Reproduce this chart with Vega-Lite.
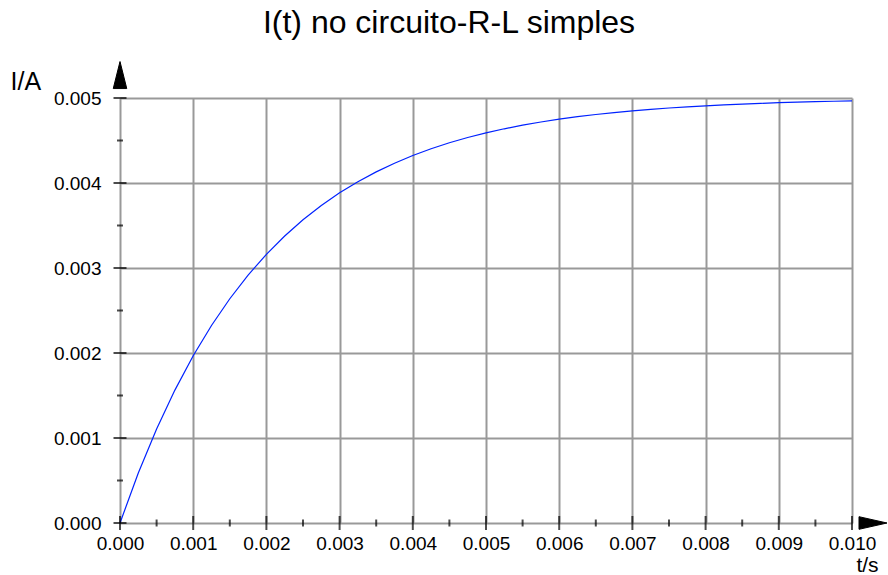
{
  "$schema": "https://vega.github.io/schema/vega-lite/v6.json",
  "width": 732,
  "height": 425,
  "autosize": {"type": "none"},
  "padding": {"left": 120, "top": 98, "right": 36, "bottom": 52},
  "background": "white",
  "config": {
    "view": {"stroke": null},
    "font": "Liberation Sans",
    "title": {"font": "Liberation Sans", "fontSize": 32, "fontWeight": "normal", "color": "black"}
  },
  "title": {"text": "I(t) no circuito-R-L simples", "anchor": "middle", "dx": -37, "offset": 20},
  "datasets": {
    "curve": [
      {"t": 0.0, "I": 0.0},
      {"t": 0.00025, "I": 0.00058752},
      {"t": 0.0005, "I": 0.001106},
      {"t": 0.00075, "I": 0.00156356},
      {"t": 0.001, "I": 0.00196735},
      {"t": 0.00125, "I": 0.00232369},
      {"t": 0.0015, "I": 0.00263817},
      {"t": 0.00175, "I": 0.00291569},
      {"t": 0.002, "I": 0.0031606},
      {"t": 0.00225, "I": 0.00337674},
      {"t": 0.0025, "I": 0.00356748},
      {"t": 0.00275, "I": 0.0037358},
      {"t": 0.003, "I": 0.00388435},
      {"t": 0.00325, "I": 0.00401544},
      {"t": 0.0035, "I": 0.00413113},
      {"t": 0.00375, "I": 0.00423323},
      {"t": 0.004, "I": 0.00432332},
      {"t": 0.00425, "I": 0.00440284},
      {"t": 0.0045, "I": 0.00447301},
      {"t": 0.00475, "I": 0.00453493},
      {"t": 0.005, "I": 0.00458958},
      {"t": 0.00525, "I": 0.0046378},
      {"t": 0.0055, "I": 0.00468036},
      {"t": 0.00575, "I": 0.00471792},
      {"t": 0.006, "I": 0.00475106},
      {"t": 0.00625, "I": 0.00478032},
      {"t": 0.0065, "I": 0.00480613},
      {"t": 0.00675, "I": 0.00482891},
      {"t": 0.007, "I": 0.00484901},
      {"t": 0.00725, "I": 0.00486676},
      {"t": 0.0075, "I": 0.00488241},
      {"t": 0.00775, "I": 0.00489623},
      {"t": 0.008, "I": 0.00490842},
      {"t": 0.00825, "I": 0.00491918},
      {"t": 0.0085, "I": 0.00492868},
      {"t": 0.00875, "I": 0.00493706},
      {"t": 0.009, "I": 0.00494446},
      {"t": 0.00925, "I": 0.00495098},
      {"t": 0.0095, "I": 0.00495674},
      {"t": 0.00975, "I": 0.00496182},
      {"t": 0.01, "I": 0.00496631}
    ],
    "xmajor": [{"v": 0}, {"v": 0.001}, {"v": 0.002}, {"v": 0.003}, {"v": 0.004}, {"v": 0.005}, {"v": 0.006}, {"v": 0.007}, {"v": 0.008}, {"v": 0.009}, {"v": 0.01}],
    "xminor": [{"v": 0.0005}, {"v": 0.0015}, {"v": 0.0025}, {"v": 0.0035}, {"v": 0.0045}, {"v": 0.0055}, {"v": 0.0065}, {"v": 0.0075}, {"v": 0.0085}, {"v": 0.0095}],
    "ymajor": [{"v": 0}, {"v": 0.001}, {"v": 0.002}, {"v": 0.003}, {"v": 0.004}, {"v": 0.005}],
    "yminor": [{"v": 0.0005}, {"v": 0.0015}, {"v": 0.0025}, {"v": 0.0035}, {"v": 0.0045}],
    "yarrow": [{"t": 0, "I": 0.00527}],
    "xarrow": [{"t": 0.010287, "I": 0}]
  },
  "layer": [
    {
      "data": {"name": "curve"},
      "mark": {"type": "line", "color": "#0022ff", "strokeWidth": 1.2, "clip": false},
      "encoding": {
        "x": {
          "field": "t", "type": "quantitative",
          "scale": {"domain": [0, 0.01], "nice": false, "zero": false},
          "axis": {
            "values": [0, 0.001, 0.002, 0.003, 0.004, 0.005, 0.006, 0.007, 0.008, 0.009, 0.01],
            "format": ".3f",
            "grid": true, "gridColor": "#999999", "gridWidth": 2,
            "domain": false, "ticks": false, "tickSize": 0,
            "labelFont": "Liberation Sans", "labelFontSize": 19, "labelColor": "black", "labelPadding": 11,
            "labelFlush": false, "labelOverlap": false,
            "title": "t/s", "titleFont": "Liberation Sans", "titleFontSize": 21, "titleFontWeight": "normal", "titleColor": "black",
            "titleAngle": 0, "titleAlign": "center", "titleBaseline": "alphabetic", "titleX": 747, "titleY": 48
          }
        },
        "y": {
          "field": "I", "type": "quantitative",
          "scale": {"domain": [0, 0.005], "nice": false, "zero": false},
          "axis": {
            "values": [0, 0.001, 0.002, 0.003, 0.004, 0.005],
            "format": ".3f",
            "grid": true, "gridColor": "#999999", "gridWidth": 2,
            "domain": false, "ticks": false, "tickSize": 0,
            "labelFont": "Liberation Sans", "labelFontSize": 19, "labelColor": "black", "labelPadding": 19,
            "labelFlush": false, "labelOverlap": false,
            "title": "I/A", "titleFont": "Liberation Sans", "titleFontSize": 25, "titleFontWeight": "normal", "titleColor": "black",
            "titleAngle": 0, "titleAlign": "left", "titleBaseline": "alphabetic", "titleX": -110, "titleY": -9
          }
        }
      }
    },
    {
      "mark": {"type": "rule", "color": "black", "strokeWidth": 2, "clip": false},
      "encoding": {
        "x": {"datum": 0, "type": "quantitative"},
        "x2": {"datum": 0.0102},
        "y": {"datum": 0, "type": "quantitative"}
      }
    },
    {
      "mark": {"type": "rule", "color": "black", "strokeWidth": 2, "clip": false},
      "encoding": {
        "x": {"datum": 0, "type": "quantitative"},
        "y": {"datum": 0, "type": "quantitative"},
        "y2": {"datum": 0.0052}
      }
    },
    {
      "data": {"name": "xmajor"},
      "mark": {"type": "tick", "orient": "vertical", "color": "black", "size": 14, "thickness": 2, "clip": false},
      "encoding": {
        "x": {"field": "v", "type": "quantitative"},
        "y": {"datum": 0, "type": "quantitative"}
      }
    },
    {
      "data": {"name": "xminor"},
      "mark": {"type": "tick", "orient": "vertical", "color": "black", "size": 7, "thickness": 2, "clip": false},
      "encoding": {
        "x": {"field": "v", "type": "quantitative"},
        "y": {"datum": 0, "type": "quantitative"}
      }
    },
    {
      "data": {"name": "ymajor"},
      "mark": {"type": "tick", "orient": "horizontal", "color": "black", "size": 13, "thickness": 2, "clip": false},
      "encoding": {
        "y": {"field": "v", "type": "quantitative"},
        "x": {"datum": 0, "type": "quantitative"}
      }
    },
    {
      "data": {"name": "yminor"},
      "mark": {"type": "tick", "orient": "horizontal", "color": "black", "size": 6, "thickness": 2, "clip": false},
      "encoding": {
        "y": {"field": "v", "type": "quantitative"},
        "x": {"datum": 0, "type": "quantitative"}
      }
    },
    {
      "data": {"name": "yarrow"},
      "mark": {"type": "point", "shape": "M 0 -1 L 0.5 1 L -0.5 1 Z", "filled": true, "fill": "black", "stroke": "black", "strokeWidth": 1, "opacity": 1, "fillOpacity": 1, "size": 729, "clip": false},
      "encoding": {
        "x": {"field": "t", "type": "quantitative"},
        "y": {"field": "I", "type": "quantitative"}
      }
    },
    {
      "data": {"name": "xarrow"},
      "mark": {"type": "point", "shape": "M 1 0 L -1 0.45 L -1 -0.45 Z", "filled": true, "fill": "black", "stroke": "black", "strokeWidth": 1, "opacity": 1, "fillOpacity": 1, "size": 784, "clip": false},
      "encoding": {
        "x": {"field": "t", "type": "quantitative"},
        "y": {"field": "I", "type": "quantitative"}
      }
    }
  ]
}
